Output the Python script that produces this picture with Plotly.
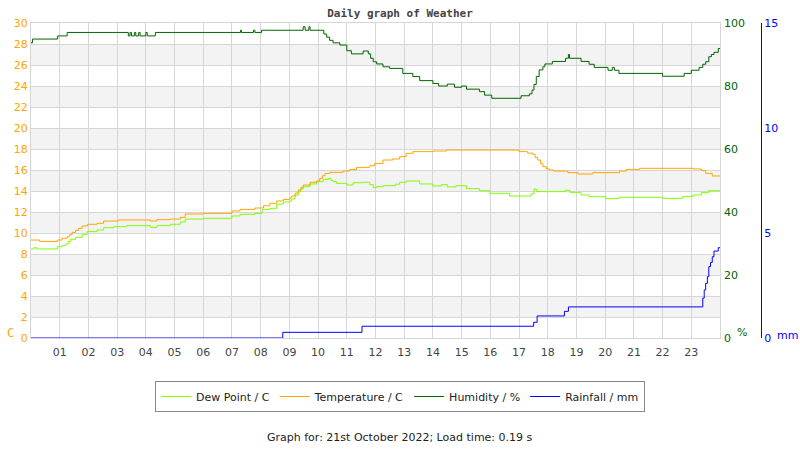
import plotly.graph_objects as go

# ---------------- data ----------------
hour_labels = ["%02d" % h for h in range(1, 24)]
left_ticks = list(range(0, 31, 2))
hum_ticks = [0, 20, 40, 60, 80, 100]
rain_ticks = [0, 5, 10, 15]

temp_h = [0, 0.3, 0.92, 1.08, 1.26, 1.35, 1.43, 1.55, 1.66, 1.78, 1.97, 2.3, 2.53, 3.05, 4.16, 4.39,
          4.85, 5.2, 5.37, 6.0, 7.0, 7.28, 7.8, 8.1, 8.32, 8.56, 8.79, 9.02, 9.08, 9.2, 9.31, 9.4,
          9.48, 9.72, 9.95, 10.06, 10.15, 10.24, 10.41, 10.87, 11.1, 11.34, 11.8, 11.97, 12.26, 12.6,
          12.84, 13.07, 13.3, 14.0, 14.47, 17.0, 17.3, 17.48, 17.56, 17.65, 17.75, 17.83, 17.95, 18.06,
          18.2, 18.7, 19.05, 19.57, 20.5, 20.74, 21.2, 23.06, 23.35, 23.5, 23.73, 24.0]
temp_v = [9.33, 9.2, 9.33, 9.5, 9.65, 9.85, 10.06, 10.25, 10.44, 10.67, 10.83, 10.92, 11.14, 11.24, 11.14, 11.27,
          11.33, 11.49, 11.81, 11.87, 12.1, 12.25, 12.38, 12.6, 12.83, 13.05, 13.2, 13.35, 13.52, 13.8, 14.1, 14.35,
          14.57, 14.83, 14.95, 15.2, 15.45, 15.68, 15.78, 15.9, 16.05, 16.25, 16.41, 16.63, 16.95, 17.05,
          17.27, 17.59, 17.75, 17.81, 17.9, 17.75, 17.6, 17.49, 17.2, 16.95, 16.6, 16.32, 16.1, 16.0,
          15.9, 15.75, 15.62, 15.75, 15.9, 16.06, 16.16, 16.1, 15.94, 15.68, 15.43, 15.43]

dew_h = [0, 0.1, 0.2, 0.92, 1.08, 1.2, 1.3, 1.37, 1.55, 1.78, 1.95, 2.3, 2.53, 2.88, 3.34, 4.16, 4.39,
         4.85, 5.2, 5.37, 6.0, 7.0, 7.28, 7.8, 8.05, 8.32, 8.56, 8.79, 9.02, 9.08, 9.2, 9.31, 9.4, 9.48,
         9.72, 9.95, 10.18, 10.36, 10.45, 10.52, 10.64, 11.0, 11.22, 11.57, 11.8, 11.92, 12.04, 12.26,
         12.7, 12.84, 13.07, 13.54, 14.0, 14.3, 14.5, 14.8, 15.17, 15.62, 15.98, 16.67, 17.42, 17.52,
         17.6, 18.6, 18.77, 19.16, 19.44, 20.02, 20.48, 22.0, 22.7, 23.06, 23.35, 23.6, 24.0]
dew_v = [8.48, 8.6, 8.48, 8.7, 8.8, 8.95, 9.2, 9.4, 9.59, 9.87, 10.13, 10.29, 10.51, 10.6, 10.7, 10.54, 10.7,
         10.83, 11.05, 11.33, 11.4, 11.62, 11.78, 11.87, 12.25, 12.35, 12.76, 12.95, 13.05, 13.24, 13.6, 13.94, 14.2, 14.41,
         14.67, 14.89, 15.11, 15.2, 15.0, 14.89, 14.73, 14.57, 14.79, 14.83, 14.6, 14.32, 14.41, 14.51,
         14.65, 14.83, 14.95, 14.67, 14.48, 14.6, 14.4, 14.5, 14.22, 14.03, 13.78, 13.52, 13.71, 14.19,
         13.94, 14.07, 13.87, 13.62, 13.46, 13.27, 13.40, 13.3, 13.49, 13.62, 13.84, 14.03, 14.03]

hum_h = [0, 0.05, 0.93, 1.26, 3.39, 3.45, 3.5, 3.6, 3.65, 3.75, 3.8, 4.0, 4.05, 4.33, 7.3, 7.33, 7.75,
         7.8, 8.03, 9.48, 9.55, 9.68, 9.72, 10.2, 10.3, 10.4, 10.52, 10.76, 11.0, 11.16, 11.57, 11.75,
         11.83, 11.92, 12.04, 12.26, 12.49, 12.95, 13.3, 13.54, 14.0, 14.2, 14.5, 14.75, 15.0, 15.17,
         15.62, 15.8, 16.05, 17.07, 17.36, 17.45, 17.52, 17.6, 17.7, 17.83, 17.9, 18.16, 18.62, 18.72,
         18.76, 19.16, 19.44, 19.62, 20.1, 20.25, 20.32, 20.48, 22.0, 22.75, 23.0, 23.27, 23.4, 23.5,
         23.61, 23.7, 23.79, 23.94, 24.0]
hum_v = [93.7, 94.9, 95.9, 97.0, 95.9, 97.0, 95.9, 97.0, 95.9, 97.0, 95.9, 97.0, 95.9, 97.0, 97.7, 97.0, 97.7,
         97.0, 97.7, 98.8, 97.7, 98.8, 97.7, 96.5, 95.5, 94.5, 93.7, 93.0, 91.2, 90.2, 91.1, 90.2,
         88.8, 87.7, 87.0, 86.1, 85.6, 84.0, 83.0, 81.7, 80.8, 80.0, 80.6, 79.6, 80.0, 79.0,
         78.2, 77.1, 76.1, 76.9, 77.5, 78.7, 80.5, 83.0, 85.1, 86.1, 87.0, 87.8, 88.8, 90.0,
         88.8, 87.8, 86.9, 85.9, 85.0, 85.9, 85.0, 84.0, 83.1, 84.0, 85.0, 85.9, 86.9, 87.7,
         89.3, 90.0, 90.7, 91.9, 91.9]

rain_h = [0, 8.77, 11.53, 17.51, 17.63, 18.58, 18.72, 23.35, 23.4, 23.45, 23.5, 23.56, 23.61, 23.67,
          23.73, 23.79, 23.94, 24.0]
rain_v = [0, 0.27, 0.56, 0.75, 1.05, 1.27, 1.48, 1.48, 1.9, 2.29, 2.6, 2.92, 3.4, 3.6,
          3.87, 4.14, 4.3, 4.3]

# ---------------- figure ----------------
ORANGE = "#ffa500"
GREEN = "#006400"
LIME = "#7fff00"
BLUE = "#0000ff"
GRID = "#d6d6d6"
FONT = "DejaVu Sans"

W, H = 800, 450
ml, mr, mt, mb = 31, 0, 23, 112
plot_right = 720
paper_w = W - ml - mr
paper_h = H - mt - mb
xdom_end = (plot_right - ml) / paper_w
rain_pos = (761 - ml) / paper_w

fig = go.Figure()
fig.add_trace(go.Scatter(x=dew_h, y=dew_v, name="Dew Point / C", mode="lines",
                         line=dict(color=LIME, width=1, shape="hv"), yaxis="y"))
fig.add_trace(go.Scatter(x=temp_h, y=temp_v, name="Temperature / C", mode="lines",
                         line=dict(color=ORANGE, width=1, shape="hv"), yaxis="y"))
fig.add_trace(go.Scatter(x=hum_h, y=hum_v, name="Humidity / %", mode="lines",
                         line=dict(color=GREEN, width=1, shape="hv"), yaxis="y2"))
fig.add_trace(go.Scatter(x=rain_h, y=rain_v, name="Rainfall / mm", mode="lines",
                         line=dict(color=BLUE, width=1, shape="hv"), yaxis="y3"))

# alternating shaded bands derived from left tick values
shapes = []
for i in range(1, len(left_ticks) - 1, 2):
    shapes.append(dict(type="rect", xref="x domain", yref="y", x0=0, x1=1,
                       y0=left_ticks[i], y1=left_ticks[i + 1],
                       fillcolor="#f3f3f3", line=dict(width=0), layer="below"))

fig.update_layout(
    width=W, height=H,
    margin=dict(l=ml, r=mr, t=mt, b=mb),
    paper_bgcolor="white", plot_bgcolor="white",
    font=dict(family=FONT, size=11, color="#333"),
    title=dict(text="<b>Daily graph of Weather</b>", x=0.5, xref="container", xanchor="center",
               y=1 - 13 / H, yref="container", yanchor="middle",
               font=dict(family="DejaVu Sans Mono", size=11, color="#444")),
    shapes=shapes,
    xaxis=dict(domain=[0, xdom_end], range=[0, 24], tickvals=list(range(1, 24)), ticktext=hour_labels,
               showgrid=True, gridcolor=GRID, gridwidth=1, zeroline=False,
               showline=True, mirror=True, linecolor=GRID, linewidth=1,
               ticks="", ticklabelstandoff=4, tickfont=dict(color="#444", size=11)),
    yaxis=dict(range=[0, 30], tickvals=left_ticks, showgrid=True, gridcolor=GRID, zeroline=False,
               showline=True, mirror=True, linecolor=GRID, ticks="",
               tickfont=dict(color=ORANGE, size=11)),
    yaxis2=dict(range=[0, 100], tickvals=hum_ticks, overlaying="y", side="right", anchor="x",
                showgrid=False, zeroline=False, showline=False, ticks="", ticklabelstandoff=3,
                tickfont=dict(color=GREEN, size=11)),
    yaxis3=dict(range=[0, 15], tickvals=rain_ticks, overlaying="y", side="right", anchor="free",
                position=rain_pos, showgrid=False, zeroline=False, showline=True, linecolor=BLUE,
                linewidth=1, ticks="", tickfont=dict(color=BLUE, size=11)),
    legend=dict(orientation="h", x=(400 - ml) / paper_w, xanchor="center",
                y=(338 - 381) / paper_h, yanchor="top",
                bordercolor="#888", borderwidth=1, bgcolor="white",
                font=dict(family=FONT, size=11, color="#222"), itemwidth=30),
    showlegend=True,
)

fig.add_annotation(text="C", xref="paper", yref="paper", x=(5 - ml) / paper_w, y=(338 - 333) / paper_h,
                   xanchor="left", yanchor="middle", showarrow=False,
                   font=dict(family="DejaVu Sans Mono", size=12, color=ORANGE))
fig.add_annotation(text="%", xref="paper", yref="paper", x=(735 - ml) / paper_w, y=(338 - 332) / paper_h,
                   xanchor="left", yanchor="middle", showarrow=False,
                   font=dict(family=FONT, size=11, color=GREEN))
fig.add_annotation(text="mm", xref="paper", yref="paper", x=(775 - ml) / paper_w, y=(338 - 335) / paper_h,
                   xanchor="left", yanchor="middle", showarrow=False,
                   font=dict(family=FONT, size=11, color=BLUE))
fig.add_annotation(text="Graph for: 21st October 2022; Load time: 0.19 s", xref="paper", yref="paper",
                   x=(400 - ml) / paper_w, y=(338 - 437) / paper_h, xanchor="center", yanchor="middle",
                   showarrow=False, font=dict(family=FONT, size=11, color="#222"))

fig.write_html("out.html")
